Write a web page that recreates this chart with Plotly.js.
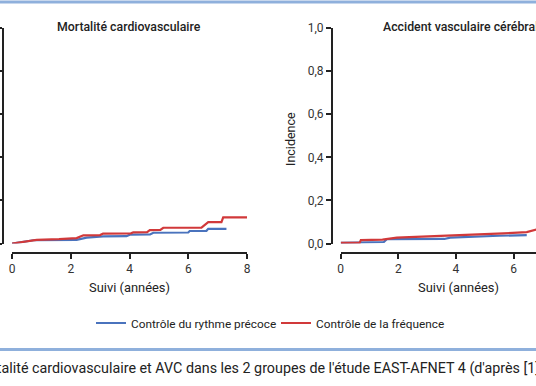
<!DOCTYPE html>
<html>
<head>
<meta charset="utf-8">
<script src="https://cdn.plot.ly/plotly-3.0.1.min.js"></script>
<style>html,body{margin:0;padding:0;background:#fff;}#chart{width:536px;height:386px;}</style>
</head>
<body>
<div id="chart"></div>
<script>
// Mortalité cardiovasculaire (left panel)
const cvTimeEarly = [0, 0.35, 0.73, 2.2, 2.54, 3.1, 3.9, 4.01, 4.7, 4.81, 6.0, 6.05, 6.62, 6.68, 7.3];
const cvIncEarly  = [0, 0.008, 0.015, 0.017, 0.027, 0.033, 0.034, 0.041, 0.042, 0.050, 0.051, 0.058, 0.059, 0.068, 0.068];
const cvTimeRate  = [0, 0.4, 0.84, 1.6, 2.2, 2.43, 3.0, 3.1, 4.05, 4.13, 4.6, 4.69, 5.05, 5.15, 6.45, 6.68, 7.13, 7.19, 8.1];
const cvIncRate   = [0, 0.009, 0.017, 0.02, 0.025, 0.038, 0.039, 0.046, 0.047, 0.052, 0.053, 0.062, 0.063, 0.073, 0.074, 0.099, 0.099, 0.121, 0.121];
// Accident vasculaire cérébral (right panel)
const avcTimeEarly = [0, 0.66, 0.73, 1.5, 1.6, 3.6, 3.8, 4.5, 5.5, 6.46];
const avcIncEarly  = [0.003, 0.004, 0.006, 0.007, 0.020, 0.021, 0.027, 0.032, 0.036, 0.039];
const avcTimeRate  = [0, 0.66, 0.7, 1.45, 1.95, 3.0, 4.0, 5.0, 5.65, 6.46, 6.8, 7.2];
const avcIncRate   = [0.003, 0.004, 0.016, 0.018, 0.027, 0.032, 0.037, 0.043, 0.047, 0.053, 0.065, 0.068];

const seriesNames = ['Contrôle du rythme précoce', 'Contrôle de la fréquence'];
const xTicks = [0, 2, 4, 6, 8];
const yTicks = [0, 0.2, 0.4, 0.6, 0.8, 1.0];
const panelTitles = ['Mortalité cardiovasculaire', 'Accident vasculaire cérébral'];
const xTitle = 'Suivi (années)';
const yTitle = 'Incidence';
const caption = "Mortalité cardiovasculaire et AVC dans les 2 groupes de l'étude EAST-AFNET 4 (d'après [1])";

const BLUE = '#4a73bd', RED = '#d1393a', AX = '#222';
const FONT = 'Roboto, "Open Sans", sans-serif';
const W = 536, H = 386;
const px = x => x / W, py = y => 1 - y / H;

const traces = [
  {x: cvTimeEarly, y: cvIncEarly, xaxis: 'x', yaxis: 'y', name: seriesNames[0], mode: 'lines', line: {color: BLUE, width: 2.2}, showlegend: true, legendgroup: 'a'},
  {x: cvTimeRate, y: cvIncRate, xaxis: 'x', yaxis: 'y', name: seriesNames[1], mode: 'lines', line: {color: RED, width: 2.2}, showlegend: true, legendgroup: 'b'},
  {x: avcTimeEarly, y: avcIncEarly, xaxis: 'x2', yaxis: 'y2', name: seriesNames[0], mode: 'lines', line: {color: BLUE, width: 2.2}, showlegend: false, legendgroup: 'a'},
  {x: avcTimeRate, y: avcIncRate, xaxis: 'x2', yaxis: 'y2', name: seriesNames[1], mode: 'lines', line: {color: RED, width: 2.2}, showlegend: false, legendgroup: 'b'}
];

const yDom = [py(243.5), py(28)];
const common = {showline: true, linecolor: AX, linewidth: 2, ticks: 'outside', ticklen: 5, tickwidth: 2, tickcolor: AX,
  showgrid: false, zeroline: false, anchor: 'free', tickfont: {family: FONT, size: 12, color: '#333'}, fixedrange: true};

const layout = {
  width: W, height: H,
  margin: {l: 0, r: 0, t: 0, b: 0},
  paper_bgcolor: '#fff', plot_bgcolor: 'rgba(0,0,0,0)',
  separators: ',.',
  font: {family: FONT, color: '#222'},
  xaxis: Object.assign({}, common, {domain: [px(12), px(247)], range: [0, 8], tickvals: xTicks, position: py(253)}),
  yaxis: Object.assign({}, common, {domain: yDom, range: [0, 1], tickvals: yTicks, showticklabels: false, position: px(3)}),
  xaxis2: Object.assign({}, common, {domain: [px(340.7), 1], range: [0, (536 - 340.7) / 28.8], tickvals: xTicks, position: py(252.5)}),
  yaxis2: Object.assign({}, common, {domain: yDom, range: [0, 1], tickvals: yTicks, tickformat: '.1f', position: px(332)}),
  showlegend: true,
  legend: {orientation: 'h', x: px(276), xanchor: 'center', y: py(323), yanchor: 'middle',
    font: {family: FONT, size: 11.8, color: '#222'}, bgcolor: 'rgba(0,0,0,0)', itemwidth: 30, tracegroupgap: 0,
    entrywidth: 140, entrywidthmode: 'pixels'},
  shapes: [
    {type: 'line', xref: 'paper', yref: 'paper', x0: 0, x1: 1, y0: py(2), y1: py(2), line: {color: '#8fb0dc', width: 3}},
    {type: 'line', xref: 'paper', yref: 'paper', x0: 0, x1: 1, y0: py(349.5), y1: py(349.5), line: {color: '#8fb0dc', width: 3}}
  ],
  annotations: [
    {text: panelTitles[0], xref: 'paper', yref: 'paper', x: px(129), y: py(27), xanchor: 'center', yanchor: 'middle', showarrow: false, font: {family: FONT, size: 12.3, color: '#222', weight: 500}},
    {text: panelTitles[1], xref: 'paper', yref: 'paper', x: px(460), y: py(27), xanchor: 'center', yanchor: 'middle', showarrow: false, font: {family: FONT, size: 12.3, color: '#222', weight: 500}},
    {text: xTitle, xref: 'paper', yref: 'paper', x: px(129.5), y: py(287), xanchor: 'center', yanchor: 'middle', showarrow: false, font: {family: FONT, size: 12.9, color: '#222'}},
    {text: xTitle, xref: 'paper', yref: 'paper', x: px(458), y: py(287), xanchor: 'center', yanchor: 'middle', showarrow: false, font: {family: FONT, size: 12.9, color: '#222'}},
    {text: yTitle, xref: 'paper', yref: 'paper', x: px(291), y: py(139), xanchor: 'center', yanchor: 'middle', textangle: -90, showarrow: false, font: {family: FONT, size: 12.5, color: '#222'}},
    {text: caption, xref: 'paper', yref: 'paper', x: 0, xshift: -31, y: py(368), xanchor: 'left', yanchor: 'middle', showarrow: false, font: {family: FONT, size: 14.3, color: '#222'}}
  ]
};

Plotly.newPlot('chart', traces, layout, {displayModeBar: false, staticPlot: true});
</script>
</body>
</html>
